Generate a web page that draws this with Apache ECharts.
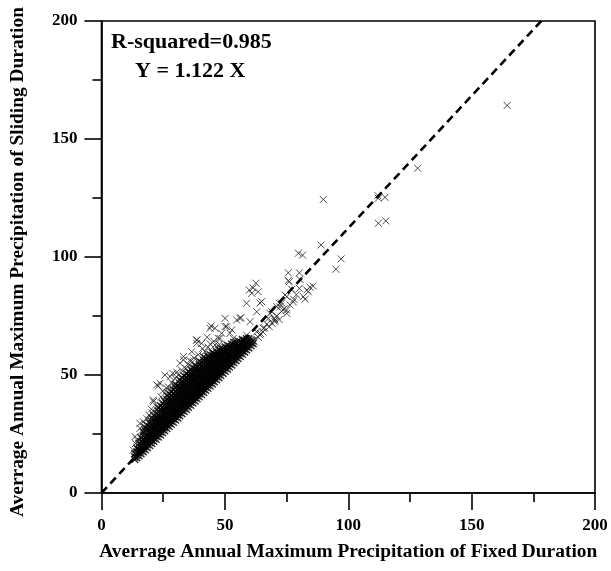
<!DOCTYPE html>
<html>
<head>
<meta charset="utf-8">
<script src="https://cdn.jsdelivr.net/npm/echarts@6.0.0/dist/echarts.min.js"></script>
<style>
  html, body { margin: 0; padding: 0; background: #fff; }
  #chart { width: 611px; height: 571px; }
</style>
</head>
<body>
<div id="chart"></div>
<script>
// Regression through the origin and its fit statistic
const fitSlope = 1.122;
const rSquared = 0.985;
const axisTicks = [0, 50, 100, 150, 200];

// Dense core of stations: each fixed-duration value with the sliding-duration values found at it
const coreFixed = [13.5, 14.3, 15.2, 16.0, 16.9, 17.7, 18.6, 19.5, 20.3, 21.2, 22.1, 23.0, 23.9, 24.7,
  25.6, 26.5, 27.4, 28.2, 29.1, 30.0, 30.9, 31.7, 32.6, 33.5, 34.4, 35.2, 36.1, 37.0, 37.9, 38.7,
  39.6, 40.5, 41.4, 42.2, 43.1, 44.0, 44.9, 45.7, 46.6, 47.5, 48.3, 49.2, 50.1, 51.0, 51.8, 52.7,
  53.6, 54.5, 55.3, 56.2, 57.1, 58.0, 58.8, 59.7, 60.6, 61.4];
const coreSliding = [
  [14.2, 15.3, 16.6],
  [14.9, 16.0, 17.4, 18.9],
  [15.8, 17.0, 18.3, 19.6, 21.0],
  [16.6, 17.8, 19.1, 20.3, 21.8, 23.4],
  [17.5, 18.7, 20.0, 21.3, 22.6, 24.2, 25.8],
  [18.3, 19.6, 20.8, 22.1, 23.5, 24.8, 26.4, 27.7],
  [19.2, 20.5, 21.7, 23.0, 24.3, 25.6, 27.1, 28.6],
  [20.1, 21.4, 22.6, 23.9, 25.3, 26.6, 28.0, 29.6],
  [21.0, 22.2, 23.5, 24.8, 26.1, 27.5, 28.9, 30.4, 31.8],
  [21.9, 23.1, 24.4, 25.7, 27.0, 28.3, 29.8, 31.2, 32.8],
  [22.8, 24.0, 25.3, 26.6, 27.9, 29.3, 30.6, 32.1, 33.7],
  [23.7, 25.0, 26.2, 27.5, 28.8, 30.2, 31.6, 33.0, 34.6, 36.0],
  [24.6, 25.9, 27.2, 28.4, 29.7, 31.1, 32.5, 33.9, 35.4, 37.0],
  [25.5, 26.8, 28.0, 29.3, 30.6, 32.0, 33.4, 34.8, 36.3, 38.0],
  [26.4, 27.7, 28.9, 30.2, 31.5, 32.9, 34.3, 35.7, 37.2, 38.8],
  [27.3, 28.6, 29.8, 31.1, 32.4, 33.8, 35.2, 36.6, 38.1, 39.6, 41.2],
  [28.2, 29.5, 30.8, 32.0, 33.3, 34.7, 36.1, 37.5, 39.0, 40.5, 42.2],
  [29.1, 30.4, 31.6, 32.9, 34.2, 35.5, 36.9, 38.3, 39.8, 41.3, 43.0],
  [30.0, 31.3, 32.5, 33.8, 35.1, 36.4, 37.8, 39.2, 40.6, 42.1, 43.8],
  [30.9, 32.2, 33.4, 34.7, 36.0, 37.3, 38.7, 40.1, 41.5, 43.0, 44.6, 46.0],
  [31.8, 33.1, 34.3, 35.6, 36.9, 38.2, 39.6, 41.0, 42.4, 43.9, 45.4],
  [32.7, 34.0, 35.2, 36.5, 37.8, 39.1, 40.5, 41.9, 43.3, 44.8, 46.3, 47.9],
  [33.6, 34.9, 36.1, 37.4, 38.7, 40.0, 41.4, 42.8, 44.2, 45.7, 47.2, 48.8],
  [34.5, 35.8, 37.0, 38.3, 39.6, 40.9, 42.3, 43.7, 45.1, 46.6, 48.1, 49.6],
  [35.4, 36.7, 37.9, 39.2, 40.5, 41.8, 43.2, 44.6, 46.0, 47.5, 49.0, 50.6],
  [36.3, 37.6, 38.8, 40.1, 41.4, 42.7, 44.1, 45.5, 46.9, 48.4, 49.9, 51.4],
  [37.2, 38.5, 39.7, 41.0, 42.3, 43.6, 45.0, 46.4, 47.8, 49.3, 50.8, 52.3],
  [38.1, 39.4, 40.6, 41.9, 43.2, 44.5, 45.9, 47.3, 48.7, 50.2, 51.7, 53.2],
  [39.0, 40.3, 41.5, 42.8, 44.1, 45.4, 46.8, 48.2, 49.6, 51.1, 52.6, 54.0],
  [39.9, 41.2, 42.4, 43.7, 45.0, 46.3, 47.7, 49.1, 50.5, 52.0, 53.5],
  [40.8, 42.1, 43.3, 44.6, 45.9, 47.2, 48.6, 50.0, 51.4, 52.9, 54.4, 55.8],
  [41.7, 43.0, 44.2, 45.5, 46.8, 48.1, 49.5, 50.9, 52.3, 53.8, 55.3],
  [42.6, 43.9, 45.1, 46.4, 47.7, 49.0, 50.4, 51.8, 53.2, 54.7, 56.2, 57.6],
  [43.5, 44.8, 46.0, 47.3, 48.6, 49.9, 51.3, 52.7, 54.1, 55.6, 57.0],
  [44.4, 45.7, 46.9, 48.2, 49.5, 50.8, 52.2, 53.6, 55.0, 56.4, 57.9],
  [45.3, 46.6, 47.8, 49.1, 50.4, 51.7, 53.1, 54.5, 55.9, 57.3, 58.6],
  [46.2, 47.5, 48.7, 50.0, 51.3, 52.6, 54.0, 55.4, 56.8, 58.2, 59.4],
  [47.1, 48.4, 49.6, 50.9, 52.2, 53.5, 54.9, 56.3, 57.7, 59.0],
  [48.0, 49.3, 50.5, 51.8, 53.1, 54.4, 55.8, 57.2, 58.6, 59.9],
  [48.9, 50.2, 51.4, 52.7, 54.0, 55.3, 56.7, 58.1, 59.4, 60.6],
  [49.8, 51.1, 52.3, 53.6, 54.9, 56.2, 57.6, 59.0, 60.2, 61.3],
  [50.7, 52.0, 53.2, 54.5, 55.8, 57.1, 58.5, 59.8, 61.0],
  [51.6, 52.9, 54.1, 55.4, 56.7, 58.0, 59.4, 60.6, 61.8],
  [52.5, 53.8, 55.0, 56.3, 57.6, 58.9, 60.2, 61.4, 62.6],
  [53.4, 54.7, 55.9, 57.2, 58.5, 59.8, 61.0, 62.2],
  [54.3, 55.6, 56.8, 58.1, 59.4, 60.6, 61.8, 63.0],
  [55.2, 56.5, 57.7, 59.0, 60.3, 61.5, 62.7, 63.8],
  [56.1, 57.4, 58.6, 59.9, 61.2, 62.4, 63.6],
  [57.0, 58.3, 59.5, 60.8, 62.0, 63.2, 64.4],
  [57.9, 59.2, 60.4, 61.7, 62.9, 64.1],
  [58.8, 60.1, 61.3, 62.6, 63.8, 65.0],
  [59.7, 61.0, 62.2, 63.5, 64.7],
  [60.6, 61.9, 63.1, 64.3, 65.4],
  [61.5, 62.8, 64.0, 65.2],
  [62.4, 63.6, 64.8],
  [63.3, 64.5]
];

// Scattered stations above the core (fixed, sliding)
const fringeStations = [
  [12.9, 18.2], [13.6, 23.9], [13.8, 21.0], [14.5, 22.5], [15.6, 27.4], [15.6, 29.5], [16.9, 30.2],
  [17.5, 26.8], [18.4, 31.5], [19.2, 33.0], [21.0, 38.7], [21.0, 39.4], [22.4, 36.6], [22.4, 45.8],
  [23.0, 45.3], [23.7, 46.5], [20.2, 35.5], [25.7, 50.0], [26.3, 44.5], [27.8, 49.3], [28.5, 46.8],
  [29.8, 48.6], [31.8, 55.0], [33.2, 56.4], [33.2, 57.8], [30.5, 51.2], [36.6, 59.9], [38.6, 64.8],
  [38.6, 63.4], [39.9, 55.6], [40.6, 63.4], [41.9, 59.9], [46.0, 62.7], [48.0, 65.5], [52.1, 67.7],
  [44.4, 70.8], [50.1, 70.5], [35.0, 54.6], [37.5, 57.2], [43.2, 61.8], [45.5, 64.3], [34.2, 52.8],
  [26.8, 41.9], [24.1, 40.8], [18.0, 28.9], [42.8, 66.0], [47.8, 63.0], [17.2, 24.6], [19.8, 30.8],
  [22.9, 34.8], [25.2, 39.6], [27.1, 44.9], [29.3, 45.7], [31.2, 49.9], [32.4, 52.1], [35.8, 56.1],
  [36.9, 55.5], [39.2, 58.6], [41.0, 61.2], [44.1, 63.1], [20.6, 33.9], [24.8, 43.2], [28.9, 50.7]
];

// Stations with larger rainfall amounts (fixed, sliding)
const highStations = [
  [62.6, 88.9], [59.9, 86.0], [63.5, 85.3], [60.9, 84.6], [77.1, 86.3], [75.1, 83.2], [72.1, 80.4],
  [76.4, 79.7], [75.1, 76.1], [58.8, 80.4], [64.9, 81.1], [62.9, 76.8], [69.0, 76.8], [56.1, 74.0],
  [56.5, 74.3], [60.2, 72.6], [50.1, 74.0], [50.7, 70.5], [67.6, 74.0], [70.3, 72.6], [65.6, 69.8],
  [44.0, 69.8], [46.0, 69.8], [52.8, 69.1], [48.7, 67.7], [58.8, 66.9], [62.9, 68.3], [38.6, 64.8],
  [47.3, 65.5], [53.4, 65.5], [59.5, 65.5], [75.7, 93.3], [80.2, 93.3], [75.7, 90.0], [80.2, 86.7],
  [84.5, 87.2], [85.8, 87.7], [83.8, 85.3], [81.8, 83.2], [74.4, 83.9], [79.8, 101.6], [81.5, 100.8],
  [89.0, 105.1], [89.9, 124.4], [97.1, 99.2], [95.0, 94.8], [112.2, 124.9], [114.9, 125.3],
  [112.0, 126.0], [112.2, 114.3], [115.2, 115.3], [128.1, 137.6], [164.4, 164.2], [80.4, 90.5],
  [76.1, 89.5], [83.2, 86.0], [82.5, 82.1], [61.4, 86.9], [64.2, 80.5], [72.3, 78.9], [75.0, 77.5],
  [68.3, 76.1], [77.7, 81.0], [54.8, 73.3], [70.3, 73.3], [64.2, 67.0], [62.0, 64.0], [63.5, 66.0],
  [64.5, 67.5], [65.5, 68.2], [66.0, 70.0], [67.0, 71.5], [68.0, 70.5], [69.0, 72.0], [70.0, 74.0],
  [71.0, 75.0], [72.0, 73.5], [73.0, 77.0], [74.0, 78.0], [71.0, 79.0], [73.0, 80.5], [78.0, 82.0],
  [79.0, 84.0]
];

const coreStations = [];
coreFixed.forEach((fx, i) => coreSliding[i].forEach(sy => coreStations.push([fx, sy])));
const outerStations = fringeStations.concat(highStations);

const serif = "'Liberation Serif', 'Times New Roman', 'DejaVu Serif', serif";
const crossSymbol = 'path://M0,0L10,10M10,0L0,10';

function valueAxis(name, gap, namePadding) {
  return {
    type: 'value',
    min: axisTicks[0],
    max: axisTicks[axisTicks.length - 1],
    interval: axisTicks[1] - axisTicks[0],
    name: name,
    nameLocation: 'middle',
    nameGap: gap,
    nameTextStyle: { fontFamily: serif, fontWeight: 'bold', fontSize: 19.4, color: '#000', padding: namePadding },
    axisLine: { show: true, lineStyle: { color: '#000', width: 1.6 } },
    axisTick: { show: true, inside: false, length: 17, lineStyle: { color: '#000', width: 1.6 } },
    minorTick: { show: true, splitNumber: 2, length: 9, lineStyle: { color: '#000', width: 1.6 } },
    splitLine: { show: false },
    minorSplitLine: { show: false },
    axisLabel: { margin: 24, fontFamily: serif, fontWeight: 'bold', fontSize: 17, color: '#000' }
  };
}

function crossSeries(data, color, width) {
  return {
    type: 'scatter',
    data: data,
    symbol: crossSymbol,
    symbolSize: 7,
    itemStyle: { color: 'rgba(0,0,0,0)', borderColor: color, borderWidth: width },
    silent: true,
    z: 2
  };
}

const chart = echarts.init(document.getElementById('chart'), null, { renderer: 'canvas' });
chart.setOption({
  animation: false,
  backgroundColor: '#fff',
  grid: {
    left: 101.5, top: 21, width: 493.5, height: 472,
    show: true, borderColor: '#000', borderWidth: 1.6, backgroundColor: 'transparent'
  },
  xAxis: valueAxis('Averrage Annual Maximum Precipitation of Fixed Duration', 49, 0),
  yAxis: valueAxis('Averrage Annual Maximum Precipitation of Sliding Duration', 74, [0, 10, 0, 0]),
  series: [
    crossSeries(coreStations, '#000', 1.5),
    crossSeries(outerStations, '#222', 1),
    {
      type: 'line',
      data: [[0, 0], [axisTicks[axisTicks.length - 1] / fitSlope, axisTicks[axisTicks.length - 1]]],
      symbol: 'none',
      lineStyle: { color: '#000', width: 2.6, type: [8, 5] },
      silent: true,
      z: 3
    }
  ],
  graphic: [
    {
      type: 'text', left: 111, top: 31,
      style: { text: 'R-squared=' + rSquared.toFixed(3), font: 'bold 22px ' + serif, fill: '#000' }
    },
    {
      type: 'text', left: 135, top: 60,
      style: { text: 'Y = ' + fitSlope.toFixed(3) + ' X', font: 'bold 22px ' + serif, fill: '#000' }
    }
  ]
});
</script>
</body>
</html>
